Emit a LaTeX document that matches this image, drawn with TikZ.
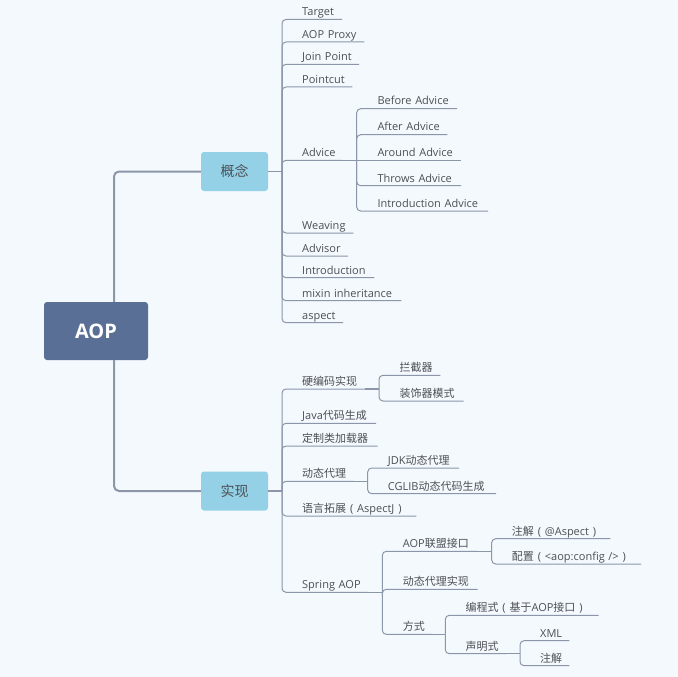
\documentclass[tikz,border=0pt]{standalone}
\usepackage{fontspec}
\setmainfont{Open Sans}
\newfontfamily\cjk{Noto Sans CJK SC}
\definecolor{bg}{HTML}{F4F9FD}
\definecolor{rootc}{HTML}{5A6F96}
\definecolor{mainc}{HTML}{94D1E7}
\definecolor{linec}{HTML}{8B96A9}
\definecolor{txt}{HTML}{4C5054}
\newcommand\lf[5]{\node[leaf,text width=#4pt] (#1) at (#2,#3) {\mbox{#5}};}
\newcommand\lp{\makebox[11pt]{(}}
\newcommand\rp{\makebox[11pt]{)}}
\begin{document}
\begin{tikzpicture}[x=1pt,y=-1pt,
  leaf/.style={anchor=south west, inner sep=0pt, text depth=3.5pt, text height=9pt,
    font=\fontsize{11}{13}\selectfont, text=txt, align=left},
  rootbox/.style={fill=rootc, rounded corners=3pt, minimum width=104pt, minimum height=58pt,
    inner sep=0pt, text=white, font=\fontsize{20}{24}\selectfont\bfseries},
  mainbox/.style={fill=mainc, rounded corners=3pt, minimum width=67pt, minimum height=39pt,
    inner sep=0pt, text=txt, font=\fontsize{14}{16}\cjk},
  trunk/.style={draw=linec, line width=2pt, rounded corners=5pt},
  jn/.style={draw=linec, line width=1.5pt},
  br/.style={draw=linec, line width=1pt, rounded corners=4pt}]
\fill[bg] (0,0) rectangle (678,677);
\useasboundingbox (0,0) rectangle (678,677);

% root and main topics
\node[rootbox] (aop) at (96,331) {AOP};
\node[mainbox] (gn) at (234.5,171.5) {概念};
\node[mainbox] (sx) at (234.5,491) {实现};
\coordinate (tx) at (114,0);
\draw[trunk] (aop.north -| tx) |- (gn.west);
\draw[trunk] (aop.south -| tx) |- (sx.west);

% ---- 概念 ----
\coordinate (j1) at (282,171.5);
\lf{target}{302}{19.5}{39.7}{Target}
\lf{proxy}{302}{42}{62}{AOP Proxy}
\lf{join}{302}{64.3}{56.7}{Join Point}
\lf{pcut}{302}{87}{50}{Pointcut}
\lf{advice}{302}{160.3}{39.7}{Advice}
\lf{weav}{302}{233}{51}{Weaving}
\lf{advisor}{302}{256}{45.7}{Advisor}
\lf{intro}{302}{277.7}{72}{Introduction}
\lf{mixin}{302}{300.7}{99}{mixin inheritance}
\lf{aspect}{302}{322.7}{40.7}{aspect}
\draw[jn] (gn.east) -- (j1);
\foreach \c in {target,proxy,join,pcut,advice,weav,advisor,intro,mixin,aspect}
  \draw[br] (j1) |- (\c.south east);

\coordinate (ja) at (356.7,160.3);
\lf{before}{377.3}{108.7}{79.4}{Before Advice}
\lf{after}{377.3}{134.7}{69.7}{After Advice}
\lf{around}{377.3}{160.3}{83.4}{Around Advice}
\lf{throws}{377.3}{185.7}{83.4}{Throws Advice}
\lf{introadv}{377.3}{211}{110.4}{Introduction Advice}
\draw[jn] (advice.south east) -- (ja);
\foreach \c in {before,after,throws,introadv}
  \draw[br] (ja) |- (\c.south east);
\draw[br] (ja) -- (around.south east);

% ---- 实现 ----
\coordinate (j2) at (282,491);
\lf{hard}{302}{389}{63}{\cjk 硬编码实现}
\lf{javagen}{302}{423.3}{73.7}{Java{\cjk 代码生成}}
\lf{loader}{302}{446}{75.3}{\cjk 定制类加载器}
\lf{dyn}{302}{481.3}{52}{\cjk 动态代理}
\lf{lang}{302}{516}{114}{{\cjk 语言拓展}\lp AspectJ\rp}
\lf{spring}{302}{592.3}{66}{Spring AOP}
\draw[jn] (sx.east) -- (j2);
\foreach \c in {hard,javagen,loader,dyn,lang,spring}
  \draw[br] (j2) |- (\c.south east);

\coordinate (jh) at (379,389);
\lf{inter}{399.3}{375.3}{40.7}{\cjk 拦截器}
\lf{deco}{399.3}{401}{64}{\cjk 装饰器模式}
\draw[jn] (hard.south east) -- (jh);
\foreach \c in {inter,deco}
  \draw[br] (jh) |- (\c.south east);

\coordinate (jd) at (367.7,481.3);
\lf{jdk}{387.7}{468}{71}{JDK{\cjk 动态代理}}
\lf{cglib}{387.7}{493.7}{108}{CGLIB{\cjk 动态代码生成}}
\draw[jn] (dyn.south east) -- (jd);
\foreach \c in {jdk,cglib}
  \draw[br] (jd) |- (\c.south east);

\coordinate (js) at (382.3,592.3);
\lf{alliance}{402.7}{551.3}{74.3}{AOP{\cjk 联盟接口}}
\lf{dynimpl}{402.7}{589.3}{74.6}{\cjk 动态代理实现}
\lf{way}{402.7}{634.3}{29.3}{\cjk 方式}
\draw[jn] (spring.south east) -- (js);
\foreach \c in {alliance,dynimpl,way}
  \draw[br] (js) |- (\c.south east);

\coordinate (jal) at (491.7,551.3);
\lf{annot}{511.7}{538.7}{98.3}{{\cjk 注解}\lp @Aspect\rp}
\lf{config}{511.7}{564}{129}{{\cjk 配置}\lp <aop:config />\rp}
\draw[jn] (alliance.south east) -- (jal);
\foreach \c in {annot,config}
  \draw[br] (jal) |- (\c.south east);

\coordinate (jw) at (445.3,634.3);
\lf{prog}{465.3}{615.3}{133}{{\cjk 编程式}\lp{\cjk 基于}AOP{\cjk 接口}\rp}
\lf{decl}{465.3}{653.7}{40.7}{\cjk 声明式}
\draw[jn] (way.south east) -- (jw);
\foreach \c in {prog,decl}
  \draw[br] (jw) |- (\c.south east);

\coordinate (jdc) at (520,653.7);
\lf{xml}{540}{640.7}{29}{XML}
\lf{annot2}{540}{665.7}{29}{\cjk 注解}
\draw[jn] (decl.south east) -- (jdc);
\foreach \c in {xml,annot2}
  \draw[br] (jdc) |- (\c.south east);
\end{tikzpicture}
\end{document}
